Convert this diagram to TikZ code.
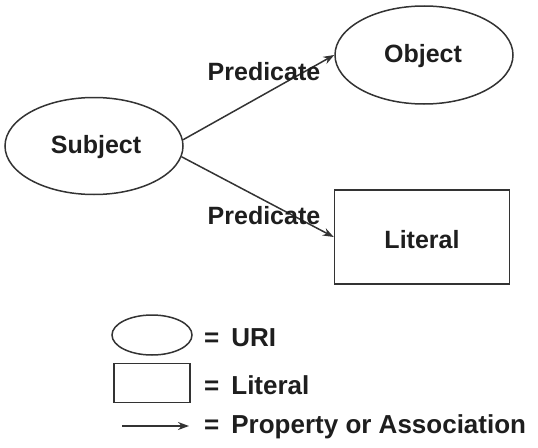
\documentclass[tikz,border=0pt]{standalone}
\usepackage{fontspec}
\setmainfont{Liberation Sans}
\usetikzlibrary{arrows.meta,shapes.geometric}
\definecolor{ink}{HTML}{1E1E1E}
\definecolor{linec}{HTML}{333333}
\tikzset{
  uri/.style={ellipse, draw=linec, line width=1.5pt, inner sep=0pt},
  lit/.style={rectangle, draw=linec, line width=1.5pt, inner sep=0pt},
  lbl/.style={text=ink, font=\bfseries\fontsize{25}{28}\selectfont, inner sep=0pt},
  leg/.style={text=ink, font=\bfseries\fontsize{26}{29}\selectfont, inner sep=0pt, anchor=west},
  rel/.style={draw=linec, line width=1.5pt, -{Stealth[length=11pt,width=8pt]}}
}
\begin{document}
\begin{tikzpicture}[x=1pt,y=-1pt]
\useasboundingbox (0,0) rectangle (538,447);
% main nodes
\node[uri, minimum width=178pt, minimum height=97pt] (subj) at (94,146) {};
\node[lbl] (subjt) at (96,147) {Subject};
\node[uri, minimum width=178pt, minimum height=98pt] (obj) at (424,55) {};
\node[lbl] (objt) at (423,56) {Object};
\node[lit, minimum width=175pt, minimum height=94pt] (litb) at (422,237) {};
\node[lbl] (litt) at (422,240) {Literal};
% connectors
\draw[rel] (subj.4) -- (obj.west);
\draw[rel] (subj.-7) -- (litb.west);
\node[lbl] (p1) at (264,72) {Predicate};
\node[lbl] (p2) at (264,216) {Predicate};
% legend
\node[uri, minimum width=80pt, minimum height=40pt] (legu) at (152,335) {};
\node[lit, minimum width=76pt, minimum height=39pt] (legl) at (152,383) {};
\coordinate (la) at (122,426);
\coordinate (lb) at (189,426);
\draw[rel] (la) -- (lb);
\node[leg] (t1) at (204,338) {=\hspace{12pt}URI};
\node[leg] (t2) at (204,385) {=\hspace{12pt}Literal};
\node[leg] (t3) at (204,427) {=\hspace{12pt}Property or Association};
\end{tikzpicture}
\end{document}
